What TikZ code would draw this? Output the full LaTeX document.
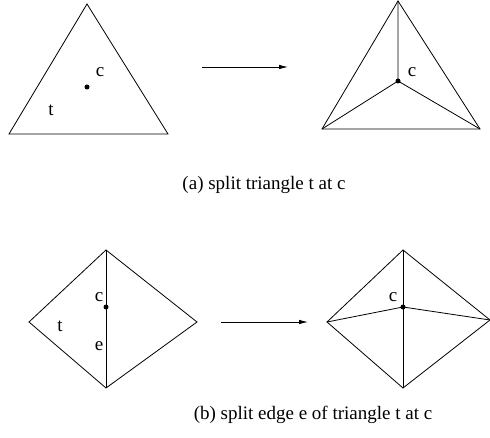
\documentclass[tikz,border=0pt]{standalone}
\usepackage{fontspec}
\setmainfont{Liberation Serif}
\usetikzlibrary{arrows.meta}
\begin{document}
\begin{tikzpicture}[x=1pt,y=-1pt,
  edge/.style={line width=0.8pt, line join=miter},
  dotpt/.style={circle, fill=black, inner sep=0pt, minimum size=5pt},
  lbl/.style={inner sep=0pt, font=\fontsize{19}{22}\selectfont},
  arr/.style={line width=0.8pt, -{Latex[length=9pt,width=4.5pt]}}]
\useasboundingbox (0,0) rectangle (490,438);
% (a) left triangle
\coordinate (A1) at (87,4);
\coordinate (A2) at (9,134);
\coordinate (A3) at (168,134);
\node[dotpt] (Ac) at (87,87) {};
\draw[edge] (A1) -- (A2) -- (A3) -- cycle;
\node[lbl] (Alc) at (100,72) {c};
\node[lbl] (Alt) at (51,110) {t};
% arrow a
\coordinate (Aa1) at (202,67);
\coordinate (Aa2) at (288,67);
\draw[arr] (Aa1) -- (Aa2);
% (a) right triangle
\coordinate (B1) at (398,1);
\coordinate (B2) at (322,129);
\coordinate (B3) at (480,129);
\node[dotpt] (Bc) at (398,81) {};
\draw[edge] (B1) -- (B2) -- (B3) -- cycle;
\draw[edge] (B1) -- (Bc.center) (B2) -- (Bc.center) (B3) -- (Bc.center);
\node[lbl] (Brc) at (412,72) {c};
\node[lbl] (capa) at (264,185) {(a) split triangle t at c};
% (b) left diamond
\coordinate (C1) at (106,250);
\coordinate (C2) at (29,322);
\coordinate (C3) at (106,388);
\coordinate (C4) at (197,322);
\node[dotpt] (Cc) at (106,307) {};
\draw[edge] (C1) -- (C2) -- (C3) -- (C4) -- cycle;
\draw[edge] (C1) -- (C3);
\node[lbl] (Clc) at (99,297) {c};
\node[lbl] (Cle) at (99,346) {e};
\node[lbl] (Clt) at (60,326) {t};
% arrow b
\coordinate (Ba1) at (221,322);
\coordinate (Ba2) at (308,322);
\draw[arr] (Ba1) -- (Ba2);
% (b) right diamond
\coordinate (D1) at (403,250);
\coordinate (D2) at (327,322);
\coordinate (D3) at (403,388);
\coordinate (D4) at (490,320);
\node[dotpt] (Dc) at (403,307) {};
\draw[edge] (D1) -- (D2) -- (D3) -- (D4) -- cycle;
\draw[edge] (D1) -- (D3);
\draw[edge] (D2) -- (Dc.center) -- (D4);
\node[lbl] (Drc) at (393,297) {c};
\node[lbl] (capb) at (313,415) {(b) split edge e of triangle t at c};
\end{tikzpicture}
\end{document}
